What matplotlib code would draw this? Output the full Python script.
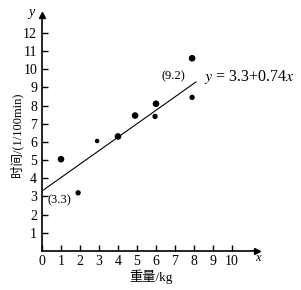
import matplotlib.pyplot as plt
import numpy as np

plt.rcParams['font.family'] = ['Liberation Serif', 'Noto Sans CJK SC', 'DejaVu Sans']

# data points
weight = [1, 1.9, 2.9, 4, 4.9, 6, 5.95, 7.9, 7.9]
time = [5.05, 3.2, 6.05, 6.3, 7.45, 8.1, 7.4, 10.6, 8.45]
dot_size = [14, 8, 5, 14, 14, 14, 8, 14, 8]
x_ticks = list(range(0, 11))
y_ticks = list(range(1, 13))
a, b = 3.3, 0.74

fig = plt.figure(figsize=(3.01, 2.90), dpi=100)
ax = fig.add_axes([42 / 301, 39 / 290, 218.5 / 301, 240 / 290])
ax.set_xlim(0, 11.5)
ax.set_ylim(0, 13.2)

for s in ['top', 'right']:
    ax.spines[s].set_visible(False)
for s in ['left', 'bottom']:
    ax.spines[s].set_linewidth(1.2)

ax.plot(11.3, 0, marker='>', color='black', markersize=5, clip_on=False)
ax.plot(0, 13.0, marker='^', color='black', markersize=5, clip_on=False)
ax.spines['bottom'].set_bounds(0, 11.3)
ax.spines['left'].set_bounds(0, 13.0)

ax.scatter(weight, time, s=dot_size, color='black', zorder=3)

xs = np.array([0, 8.1])
ax.plot(xs, a + b * xs, color='black', linewidth=0.8)

ax.set_xticks(x_ticks)
ax.set_yticks(y_ticks)
ax.tick_params(direction='in', length=4, width=1, labelsize=10)
ax.tick_params(axis='x', pad=3)

ax.text(0.3, 2.65, '(3.3)', fontsize=9)
ax.text(6.3, 9.45, '(9.2)', fontsize=9)
ax.text(8.5, 9.35, r'$y$ = 3.3+0.74$x$', fontsize=11.5,
        math_fontfamily='stix')
ax.text(11.35, -0.55, 'x', fontsize=9, style='italic', ha='center')
ax.text(-0.55, 12.9, 'y', fontsize=10, style='italic', ha='center')

ax.set_xlabel('重量/kg', fontsize=9.5)
ax.set_ylabel('时间/(1/100min)', fontsize=9)
ax.yaxis.set_label_coords(-0.087, 0.485)
ax.xaxis.set_label_coords(0.5, -0.075)

fig.savefig('out.png', dpi=100)
